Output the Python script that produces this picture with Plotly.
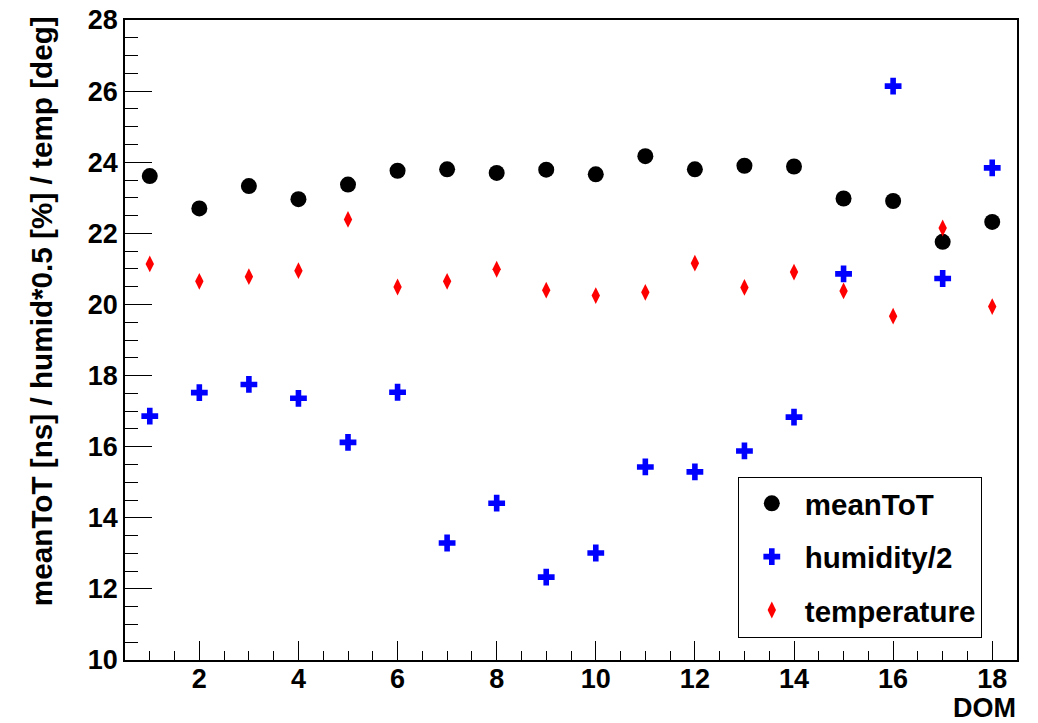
import plotly.graph_objects as go

dom = list(range(1, 19))
mean_tot = [23.61, 22.70, 23.33, 22.96, 23.37, 23.76, 23.80, 23.70, 23.79,
            23.66, 24.17, 23.80, 23.90, 23.88, 22.98, 22.91, 21.76, 22.32]
humidity_half = [16.86, 17.52, 17.75, 17.36, 16.12, 17.53, 13.29, 14.41, 12.33,
                 13.01, 15.43, 15.29, 15.88, 16.83, 20.86, 26.14, 20.73, 23.84]
temperature = [21.14, 20.65, 20.78, 20.95, 22.39, 20.49, 20.65, 20.99, 20.40,
               20.25, 20.34, 21.16, 20.48, 20.91, 20.38, 19.67, 22.15, 19.94]
x_ticks = [2, 4, 6, 8, 10, 12, 14, 16, 18]
y_ticks = [10, 12, 14, 16, 18, 20, 22, 24, 26, 28]

FONT = "Liberation Sans, Arial, Helvetica, sans-serif"

fig = go.Figure()
fig.add_trace(go.Scatter(x=dom, y=mean_tot, mode="markers", name="meanToT",
                         legendgroup="a",
                         marker=dict(symbol="circle", size=16, color="black")))
fig.add_trace(go.Scatter(x=dom, y=humidity_half, mode="markers", name="humidity/2",
                         legendgroup="b",
                         marker=dict(symbol="cross", size=14, color="#0000ff")))
fig.add_trace(go.Scatter(x=dom, y=temperature, mode="markers", name="temperature",
                         legendgroup="c",
                         marker=dict(symbol="diamond-tall", size=12, color="#ff0000")))

axis_common = dict(
    showline=True, linecolor="black", linewidth=1.5, mirror=True,
    ticks="inside", tickwidth=1.2, tickcolor="black",
    showgrid=False, zeroline=False, automargin=False,
    ticklabeloverflow="allow",
    tickfont=dict(family=FONT, size=27, color="black", weight="bold"),
)

fig.update_xaxes(range=[0.5, 18.5], tickmode="array", tickvals=x_ticks,
                 ticktext=[str(v) for v in x_ticks], ticklabelstandoff=-6,
                 ticklen=19,
                 minor=dict(ticks="inside", ticklen=9, tickwidth=1.2,
                            tickcolor="black", dtick=0.5, showgrid=False),
                 **axis_common)
fig.update_yaxes(range=[10, 28], tickmode="array", tickvals=y_ticks,
                 ticktext=[str(v) for v in y_ticks], ticklen=27,
                 minor=dict(ticks="inside", ticklen=13, tickwidth=1.2,
                            tickcolor="black", dtick=0.5, showgrid=False),
                 **axis_common)

fig.add_annotation(text="meanToT [ns] / humid*0.5 [%] / temp [deg]",
                   xref="paper", yref="paper", x=-0.0942, y=0.545,
                   xanchor="center", yanchor="middle", textangle=-90,
                   showarrow=False,
                   font=dict(family=FONT, size=29.7, color="black", weight="bold"))
fig.add_annotation(text="DOM", xref="paper", yref="paper", x=1.001, y=-0.0757,
                   xanchor="right", yanchor="middle", showarrow=False,
                   font=dict(family=FONT, size=27, color="black", weight="bold"))

fig.update_layout(
    width=1030, height=715,
    margin=dict(l=117, r=21, t=12, b=62.5),
    paper_bgcolor="white", plot_bgcolor="white",
    showlegend=True,
    legend=dict(x=0.687, y=0.2865, xanchor="left", yanchor="top",
                bordercolor="black", borderwidth=1, bgcolor="white",
                traceorder="grouped", tracegroupgap=12,
                itemwidth=56, entrywidth=262, entrywidthmode="pixels",
                font=dict(family=FONT, size=29.5, color="black", weight="bold"),
                itemsizing="trace"),
)

fig.write_html("out.html")
